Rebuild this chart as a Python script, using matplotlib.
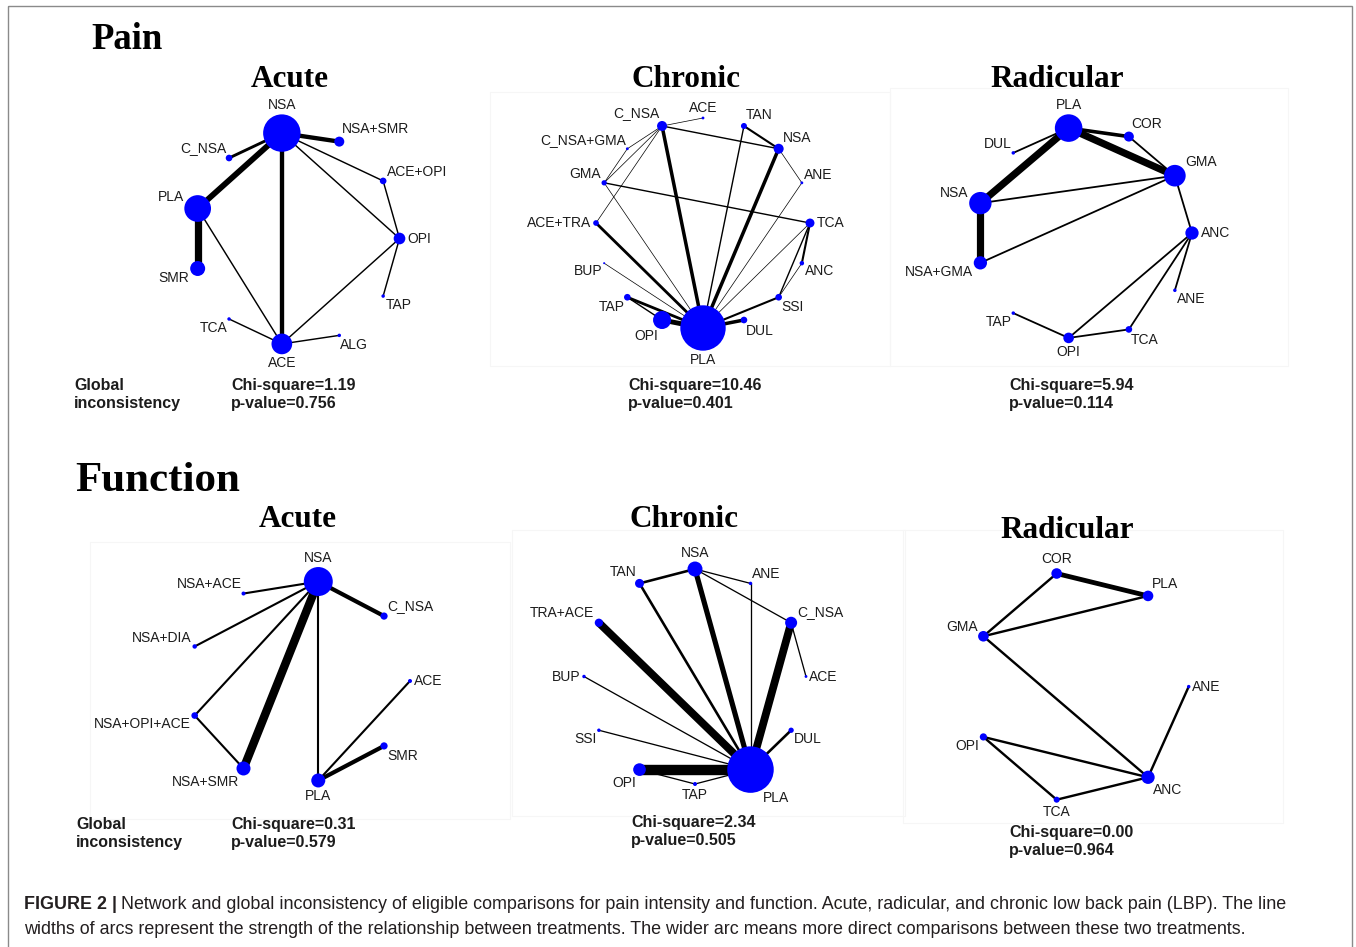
import numpy as np
import matplotlib
matplotlib.use("Agg")
import matplotlib.pyplot as plt
from matplotlib.patches import Circle, Rectangle

# ── Network data ──────────────────────────────────────────────────────────────
# Treatments are listed counter-clockwise round the circle, starting at 3 o'clock.
# Node weight -> node area, edge count -> number of direct comparisons.
PAIN_ACUTE_NODES = ["OPI", "ACE+OPI", "NSA+SMR", "NSA", "C_NSA", "PLA", "SMR",
                    "TCA", "ACE", "ALG", "TAP"]
PAIN_ACUTE_WEIGHT = [34, 11, 25, 350, 11, 178, 56, 3, 107, 3, 3]
PAIN_ACUTE_EDGES = [
    ("NSA", "NSA+SMR", 3), ("NSA", "C_NSA", 2), ("NSA", "PLA", 4), ("NSA", "ACE", 3),
    ("NSA", "ACE+OPI", 1), ("NSA", "OPI", 1), ("PLA", "SMR", 5), ("PLA", "ACE", 1),
    ("ACE+OPI", "OPI", 1), ("OPI", "TAP", 1), ("OPI", "ACE", 1), ("ACE", "TCA", 1),
    ("ACE", "ALG", 1),
]

PAIN_CHRONIC_NODES = ["TCA", "ANE", "NSA", "TAN", "ACE", "C_NSA", "C_NSA+GMA", "GMA",
                      "ACE+TRA", "BUP", "TAP", "OPI", "PLA", "DUL", "SSI", "ANC"]
PAIN_CHRONIC_WEIGHT = [20, 2, 25, 9, 2, 25, 2, 7, 8, 1, 11, 81, 515, 11, 11, 5]
PAIN_CHRONIC_EDGES = [
    ("C_NSA", "ACE", 1), ("C_NSA", "NSA", 2), ("C_NSA", "C_NSA+GMA", 1), ("C_NSA", "GMA", 1),
    ("C_NSA", "ACE+TRA", 1), ("C_NSA", "PLA", 5), ("C_NSA+GMA", "GMA", 1), ("GMA", "TCA", 2),
    ("GMA", "PLA", 1), ("ACE+TRA", "PLA", 4), ("BUP", "PLA", 1), ("TAP", "PLA", 4),
    ("TAP", "OPI", 2), ("OPI", "PLA", 7), ("TAN", "PLA", 2), ("TAN", "NSA", 3),
    ("NSA", "PLA", 5), ("NSA", "ANE", 1), ("ANE", "PLA", 1), ("TCA", "PLA", 1),
    ("TCA", "ANC", 3), ("TCA", "SSI", 2), ("ANC", "SSI", 1), ("SSI", "PLA", 3),
    ("DUL", "PLA", 5),
]

PAIN_RADIC_NODES = ["ANC", "GMA", "COR", "PLA", "DUL", "NSA", "NSA+GMA", "TAP", "OPI",
                    "TCA", "ANE"]
PAIN_RADIC_WEIGHT = [44, 117, 25, 190, 3, 125, 44, 3, 28, 11, 3]
PAIN_RADIC_EDGES = [
    ("PLA", "COR", 2), ("PLA", "GMA", 4), ("PLA", "NSA", 4), ("PLA", "DUL", 1),
    ("COR", "GMA", 1), ("GMA", "NSA", 1), ("GMA", "NSA+GMA", 1), ("GMA", "ANC", 1),
    ("NSA", "NSA+GMA", 4), ("ANC", "ANE", 1), ("ANC", "OPI", 1), ("ANC", "TCA", 1),
    ("OPI", "TCA", 1), ("OPI", "TAP", 1),
]

FUNC_ACUTE_NODES = ["ACE", "C_NSA", "NSA", "NSA+ACE", "NSA+DIA", "NSA+OPI+ACE",
                    "NSA+SMR", "PLA", "SMR"]
FUNC_ACUTE_WEIGHT = [4, 13, 210, 4, 5, 11, 49, 49, 13]
FUNC_ACUTE_EDGES = [
    ("NSA", "NSA+ACE", 1), ("NSA", "C_NSA", 2), ("NSA", "NSA+DIA", 1),
    ("NSA", "NSA+OPI+ACE", 1), ("NSA", "NSA+SMR", 4), ("NSA", "PLA", 1),
    ("NSA+OPI+ACE", "NSA+SMR", 1), ("PLA", "ACE", 1), ("PLA", "SMR", 2),
]

FUNC_CHRONIC_NODES = ["ACE", "C_NSA", "ANE", "NSA", "TAN", "TRA+ACE", "BUP", "SSI",
                      "OPI", "TAP", "PLA", "DUL"]
FUNC_CHRONIC_WEIGHT = [2, 36, 3, 56, 20, 17, 3, 3, 40, 4, 540, 7]
FUNC_CHRONIC_EDGES = [
    ("TAN", "NSA", 2), ("NSA", "ANE", 1), ("NSA", "C_NSA", 1), ("NSA", "PLA", 4),
    ("TAN", "PLA", 2), ("ANE", "PLA", 1), ("C_NSA", "PLA", 6), ("C_NSA", "ACE", 1),
    ("TRA+ACE", "PLA", 6), ("BUP", "PLA", 1), ("SSI", "PLA", 1), ("OPI", "PLA", 8),
    ("OPI", "TAP", 1), ("TAP", "PLA", 1), ("DUL", "PLA", 2),
]

FUNC_RADIC_NODES = ["ANE", "PLA", "COR", "GMA", "OPI", "TCA", "ANC"]
FUNC_RADIC_WEIGHT = [3, 28, 28, 28, 13, 9, 44]
FUNC_RADIC_EDGES = [
    ("COR", "PLA", 2), ("COR", "GMA", 1), ("GMA", "PLA", 1), ("GMA", "ANC", 1),
    ("ANE", "ANC", 1), ("OPI", "ANC", 1), ("OPI", "TCA", 1), ("TCA", "ANC", 1),
]

SUBTITLES = ["Acute", "Chronic", "Radicular", "Acute", "Chronic", "Radicular"]
CHI_SQUARE = [1.19, 10.46, 5.94, 0.31, 2.34, 0.00]
P_VALUE = [0.756, 0.401, 0.114, 0.579, 0.505, 0.964]

NETWORKS = [
    (PAIN_ACUTE_NODES, PAIN_ACUTE_WEIGHT, PAIN_ACUTE_EDGES),
    (PAIN_CHRONIC_NODES, PAIN_CHRONIC_WEIGHT, PAIN_CHRONIC_EDGES),
    (PAIN_RADIC_NODES, PAIN_RADIC_WEIGHT, PAIN_RADIC_EDGES),
    (FUNC_ACUTE_NODES, FUNC_ACUTE_WEIGHT, FUNC_ACUTE_EDGES),
    (FUNC_CHRONIC_NODES, FUNC_CHRONIC_WEIGHT, FUNC_CHRONIC_EDGES),
    (FUNC_RADIC_NODES, FUNC_RADIC_WEIGHT, FUNC_RADIC_EDGES),
]

# ── Layout (page pixels) ─────────────────────────────────────────────────────
W, H = 1356, 947
PT = 72 / 100          # points per pixel at dpi=100
LAYOUT = [
    dict(c=(296.5, 238.5), r=(103, 106.5), unit=1.45, title=(290, 87), stat=(231, 390)),
    dict(c=(703, 223), r=(107, 105), unit=0.70, title=(686, 87), stat=(628, 390)),
    dict(c=(1084, 233), r=(108, 106), unit=1.80, title=(1057, 87), stat=(1009, 390)),
    dict(c=(299, 681), r=(111, 101), unit=2.10, title=(298, 527), stat=(231, 829)),
    dict(c=(695, 676.5), r=(111, 107.5), unit=1.30, title=(684, 527), stat=(631, 827)),
    dict(c=(1080.7, 686.6), r=(108, 116), unit=2.40, title=(1067, 538), stat=(1009, 837)),
]
# faint frames left over from the exported graph windows (x, y, w, h)
PANEL_FRAMES = [
    (490, 92, 400, 274), (890, 88, 398, 278),
    (90, 542, 420, 277), (512, 530, 393, 286), (903, 530, 380, 293),
]

SANS = "Liberation Sans"
SERIF = "Liberation Serif"
NODE_BLUE = "#0000ff"
INK = "#1c1c1c"


def draw_network(ax, nodes, weights, edges, lay):
    n = len(nodes)
    ang = 2 * np.pi * np.arange(n) / n
    cx, cy = lay["c"]
    rx, ry = lay["r"]
    xs = cx + rx * np.cos(ang)
    ys = cy - ry * np.sin(ang)
    pos = {name: (x, y) for name, x, y in zip(nodes, xs, ys)}

    for a, b, k in edges:
        (xa, ya), (xb, yb) = pos[a], pos[b]
        ax.plot([xa, xb], [ya, yb], color="black", lw=k * lay["unit"] * PT,
                solid_capstyle="butt", zorder=2)

    for name, w, a, x, y in zip(nodes, weights, ang, xs, ys):
        rad = np.sqrt(w)
        ax.add_patch(Circle((x, y), rad, facecolor=NODE_BLUE, edgecolor="none", zorder=3))
        c, s = np.cos(a), np.sin(a)
        if abs(s) >= 0.95:
            tx, ty = x, y - np.sign(s) * (rad + 2)
            ha, va = "center", ("bottom" if s > 0 else "top")
        elif abs(s) <= 0.2:
            tx, ty = x + np.sign(c) * (rad + 2), y
            ha, va = ("left" if c > 0 else "right"), "center"
        else:
            tx, ty = x + c * (rad + 1), y - s * (rad + 1)
            ha = "left" if c > 0 else "right"
            va = "bottom" if s > 0 else "top"
        ax.text(tx, ty, name, ha=ha, va=va, fontsize=10, family=SANS, color=INK, zorder=4)


fig = plt.figure(figsize=(W / 100, H / 100), dpi=100)
ax = fig.add_axes([0, 0, 1, 1])
ax.set_xlim(0, W)
ax.set_ylim(H, 0)
ax.axis("off")

# outer frame and faint panel frames
ax.add_patch(Rectangle((8, 6), 1344, 960, fill=False, edgecolor="#8a8a8a", lw=1.0, zorder=1))
for fx, fy, fw, fh in PANEL_FRAMES:
    ax.add_patch(Rectangle((fx, fy), fw, fh, fill=False, edgecolor="#f6f6f6", lw=0.8, zorder=0))

# section headings
ax.text(91, 49, "Pain", fontsize=26.5, family=SERIF, weight="bold", va="baseline", color="black")
ax.text(75, 491, "Function", fontsize=31, family=SERIF, weight="bold", va="baseline", color="black")

for (nodes, weights, edges), lay, sub, chi, p in zip(NETWORKS, LAYOUT, SUBTITLES, CHI_SQUARE, P_VALUE):
    draw_network(ax, nodes, weights, edges, lay)
    ax.text(lay["title"][0], lay["title"][1], sub, fontsize=22.5, family=SERIF,
            weight="bold", ha="center", va="baseline", color="black")
    sx, sy = lay["stat"]
    ax.text(sx, sy, f"Chi-square={chi:.2f}", fontsize=11.5, family=SANS, weight="bold",
            va="baseline", color=INK)
    ax.text(sx, sy + 17.5, f"p-value={p:.3f}", fontsize=11.5, family=SANS, weight="bold",
            va="baseline", color=INK)

for gx, gy in [(74, 390), (76, 829)]:
    ax.text(gx, gy, "Global", fontsize=11.5, family=SANS, weight="bold", va="baseline", color=INK)
    ax.text(gx, gy + 17.5, "inconsistency", fontsize=11.5, family=SANS, weight="bold",
            va="baseline", color=INK)

# caption
CAP_SIZE = 12.9
cap_bold = ax.text(24, 909, "FIGURE 2 |", fontsize=CAP_SIZE, family=SANS, weight="bold",
                   va="baseline", color="#231f20")
fig.canvas.draw()
bb = cap_bold.get_window_extent(fig.canvas.get_renderer())
x_end = ax.transData.inverted().transform((bb.x1, bb.y0))[0]
ax.text(x_end + 4, 909,
        "Network and global inconsistency of eligible comparisons for pain intensity and "
        "function. Acute, radicular, and chronic low back pain (LBP). The line",
        fontsize=CAP_SIZE, family=SANS, va="baseline", color="#231f20")
ax.text(24, 934,
        "widths of arcs represent the strength of the relationship between treatments. "
        "The wider arc means more direct comparisons between these two treatments.",
        fontsize=CAP_SIZE, family=SANS, va="baseline", color="#231f20")

fig.savefig("out.png", dpi=100)
